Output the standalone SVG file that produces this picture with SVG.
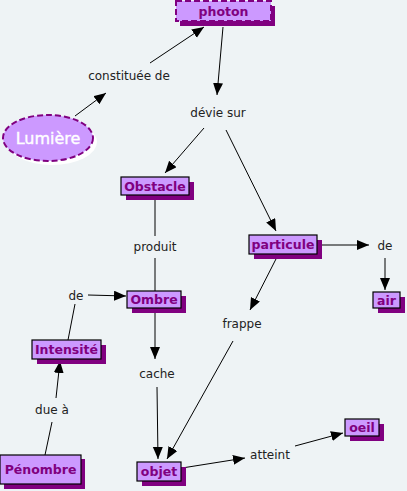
<svg xmlns="http://www.w3.org/2000/svg" width="407" height="491" viewBox="0 0 407 491">
<defs>
<marker id="ah" markerWidth="13" markerHeight="11" refX="12" refY="5" orient="auto" markerUnits="userSpaceOnUse">
<path d="M0,0 L12,5 L0,10 z" fill="#000"/>
</marker>
<style>
.bg{fill:#eef3f5}
.box{fill:#cc99ff;stroke:#000;stroke-width:1.2}
.sh{fill:#800080}
.nt{font-family:"DejaVu Sans",Verdana,sans-serif;font-size:12.5px;font-weight:bold;fill:#800080;text-anchor:middle}
.lt{font-family:"DejaVu Sans",Verdana,sans-serif;font-size:12px;fill:#222;text-anchor:middle}
.c line{stroke:#000;stroke-width:1}
.a{marker-end:url(#ah)}
</style>
</defs>
<rect class="bg" x="0" y="0" width="407" height="491"/>

<g class="c" id="connectors">
<line class="a" x1="75" y1="116" x2="106" y2="93"/>
<line class="a" x1="150" y1="63" x2="204" y2="27"/>
<line class="a" x1="223" y1="27" x2="217" y2="95"/>
<line class="a" x1="204" y1="128" x2="165" y2="173"/>
<line class="a" x1="226" y1="130" x2="276" y2="231"/>
<line x1="155" y1="196" x2="155" y2="236"/>
<line x1="155" y1="258" x2="155" y2="291"/>
<line class="a" x1="318" y1="245" x2="369" y2="245"/>
<line class="a" x1="385" y1="258" x2="385" y2="290"/>
<line class="a" x1="277" y1="257" x2="250" y2="310"/>
<line class="a" x1="233" y1="341" x2="167" y2="459"/>
<line class="a" x1="155" y1="309" x2="155" y2="359"/>
<line class="a" x1="157" y1="387" x2="158" y2="459"/>
<line x1="45" y1="455" x2="52" y2="422"/>
<line class="a" x1="56" y1="398" x2="60" y2="361"/>
<line x1="68" y1="340" x2="75" y2="304"/>
<line class="a" x1="88" y1="295" x2="126" y2="296"/>
<line class="a" x1="182" y1="468" x2="245" y2="458"/>
<line class="a" x1="295" y1="446" x2="343" y2="433"/>
</g>

<g id="photon">
<rect class="sh" x="180" y="6" width="95" height="20"/>
<rect x="176" y="1" width="95" height="20" fill="#cc99ff" stroke="#800080" stroke-width="2" stroke-dasharray="6,3"/>
<text class="nt" x="223.5" y="15.5">photon</text>
</g>

<g id="lumiere">
<ellipse cx="52" cy="142" rx="45" ry="23" fill="#ffffff"/>
<ellipse cx="48" cy="138" rx="45" ry="23" fill="#cc99ff" stroke="#800080" stroke-width="2" stroke-dasharray="6,3"/>
<text x="48" y="144" font-family="'Comic Sans MS','DejaVu Sans',sans-serif" font-size="16" fill="#ffffff" stroke="#ffffff" stroke-width="0.4" text-anchor="middle">Lumière</text>
</g>

<g id="obstacle">
<rect class="sh" x="126" y="182" width="68" height="18"/>
<rect class="box" x="121" y="177" width="68" height="18"/>
<text class="nt" x="155" y="190.5">Obstacle</text>
</g>

<g id="particule">
<rect class="sh" x="254" y="240" width="68" height="19"/>
<rect class="box" x="249" y="235" width="68" height="19"/>
<text class="nt" x="283" y="249">particule</text>
</g>

<g id="air">
<rect class="sh" x="378" y="297" width="27" height="16"/>
<rect class="box" x="373" y="292" width="27" height="16"/>
<text class="nt" x="386.5" y="304.5">air</text>
</g>

<g id="ombre">
<rect class="sh" x="132" y="296" width="54" height="17"/>
<rect class="box" x="127" y="291" width="54" height="17"/>
<text class="nt" x="154" y="304">Ombre</text>
</g>

<g id="intensite">
<rect class="sh" x="37" y="345" width="69" height="19"/>
<rect class="box" x="32" y="340" width="69" height="19"/>
<text class="nt" x="66.5" y="354">Intensité</text>
</g>

<g id="penombre">
<rect class="sh" x="4" y="459" width="81" height="30"/>
<rect class="box" x="0" y="455" width="81" height="29"/>
<text class="nt" x="40.5" y="474">Pénombre</text>
</g>

<g id="objet">
<rect class="sh" x="142" y="467" width="44" height="19"/>
<rect class="box" x="137" y="462" width="44" height="19"/>
<text class="nt" x="159" y="476">objet</text>
</g>

<g id="oeil">
<rect class="sh" x="350" y="424" width="34" height="17"/>
<rect class="box" x="345" y="419" width="34" height="17"/>
<text class="nt" x="362" y="432">oeil</text>
</g>

<g id="labels">
<text class="lt" x="129" y="80">constituée de</text>
<text class="lt" x="218" y="117">dévie sur</text>
<text class="lt" x="155" y="251">produit</text>
<text class="lt" x="385" y="250">de</text>
<text class="lt" x="242" y="328">frappe</text>
<text class="lt" x="76" y="300">de</text>
<text class="lt" x="157" y="378">cache</text>
<text class="lt" x="52" y="414">due à</text>
<text class="lt" x="270" y="459">atteint</text>
</g>
</svg>
